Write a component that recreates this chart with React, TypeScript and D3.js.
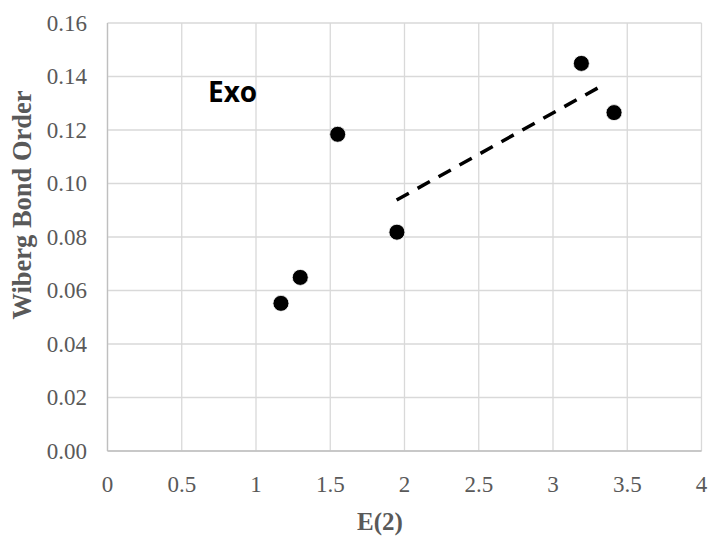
import React, { useEffect, useRef } from 'react';
import * as d3 from 'd3';

// data
const e2Values = [1.168, 1.298, 1.55, 1.949, 3.191, 3.411];
const bondOrders = [0.0552, 0.0649, 0.1184, 0.0818, 0.1449, 0.1265];
// trend line ends (x, y)
const trendX = [1.947, 3.35];
const trendY = [0.0938, 0.1372];
const xTicks = [0, 0.5, 1, 1.5, 2, 2.5, 3, 3.5, 4];
const yTicks = [0, 0.02, 0.04, 0.06, 0.08, 0.1, 0.12, 0.14, 0.16];

const WIDTH = 713;
const HEIGHT = 539;

export default function App() {
  const ref = useRef<SVGSVGElement>(null);

  useEffect(() => {
    const svg = d3.select(ref.current);
    svg.selectAll('*').remove();

    // plot area
    const left = 107.5;
    const right = 701.5;
    const top = 23;
    const bottom = 451;

    const x = d3.scaleLinear().domain([0, 4]).range([left, right]);
    const y = d3.scaleLinear().domain([0, 0.16]).range([bottom, top]);

    const gridColor = '#d9d9d9';
    const textColor = '#595959';
    const serif = '"Liberation Serif", "Times New Roman", serif';

    // grid lines
    svg
      .append('g')
      .selectAll('line')
      .data(xTicks)
      .enter()
      .append('line')
      .attr('x1', (d) => x(d))
      .attr('x2', (d) => x(d))
      .attr('y1', top)
      .attr('y2', bottom)
      .attr('stroke', gridColor)
      .attr('stroke-width', 1.3);

    svg
      .append('g')
      .selectAll('line')
      .data(yTicks)
      .enter()
      .append('line')
      .attr('x1', left)
      .attr('x2', right)
      .attr('y1', (d) => y(d))
      .attr('y2', (d) => y(d))
      .attr('stroke', gridColor)
      .attr('stroke-width', 1.3);

    // axis lines (slightly darker)
    svg
      .append('line')
      .attr('x1', left)
      .attr('x2', right)
      .attr('y1', bottom)
      .attr('y2', bottom)
      .attr('stroke', '#bfbfbf')
      .attr('stroke-width', 1.3);
    svg
      .append('line')
      .attr('x1', left)
      .attr('x2', left)
      .attr('y1', top)
      .attr('y2', bottom)
      .attr('stroke', '#bfbfbf')
      .attr('stroke-width', 1.3);

    // tick labels
    svg
      .append('g')
      .selectAll('text')
      .data(xTicks)
      .enter()
      .append('text')
      .attr('x', (d) => x(d))
      .attr('y', 492)
      .attr('text-anchor', 'middle')
      .attr('font-family', serif)
      .attr('font-size', 23)
      .attr('fill', textColor)
      .text((d) => String(d));

    svg
      .append('g')
      .selectAll('text')
      .data(yTicks)
      .enter()
      .append('text')
      .attr('x', 87)
      .attr('y', (d) => y(d))
      .attr('dy', '0.33em')
      .attr('text-anchor', 'end')
      .attr('font-family', serif)
      .attr('font-size', 23)
      .attr('fill', textColor)
      .text((d) => d.toFixed(2));

    // axis titles
    svg
      .append('text')
      .attr('x', 380)
      .attr('y', 530)
      .attr('text-anchor', 'middle')
      .attr('font-family', serif)
      .attr('font-weight', 'bold')
      .attr('font-size', 25)
      .attr('fill', textColor)
      .text('E(2)');

    svg
      .append('text')
      .attr('transform', 'translate(31, 205) rotate(-90)')
      .attr('text-anchor', 'middle')
      .attr('font-family', serif)
      .attr('font-weight', 'bold')
      .attr('font-size', 26.5)
      .attr('fill', textColor)
      .text('Wiberg Bond Order');

    // trend line
    const line = d3
      .line<number>()
      .x((d) => x(d))
      .y((d, i) => y(trendY[i]));
    svg
      .append('path')
      .attr('d', line(trendX))
      .attr('fill', 'none')
      .attr('stroke', '#000')
      .attr('stroke-width', 3.5)
      .attr('stroke-dasharray', '14,10');

    // points
    svg
      .append('g')
      .selectAll('circle')
      .data(e2Values)
      .enter()
      .append('circle')
      .attr('cx', (d) => x(d))
      .attr('cy', (d, i) => y(bondOrders[i]))
      .attr('r', 8)
      .attr('fill', '#000')
      .attr('stroke', '#fff')
      .attr('stroke-width', 0.8);

    // annotation
    svg
      .append('text')
      .attr('x', 208)
      .attr('y', 101.5)
      .attr('font-family', '"Open Sans", sans-serif')
      .attr('font-weight', 'bold')
      .attr('font-size', 28)
      .attr('fill', '#000')
      .text('Exo');
  }, []);

  return (
    <svg
      ref={ref}
      width={WIDTH}
      height={HEIGHT}
      style={{ display: 'block', position: 'absolute', left: 0, top: 0, background: '#fff' }}
    />
  );
}
